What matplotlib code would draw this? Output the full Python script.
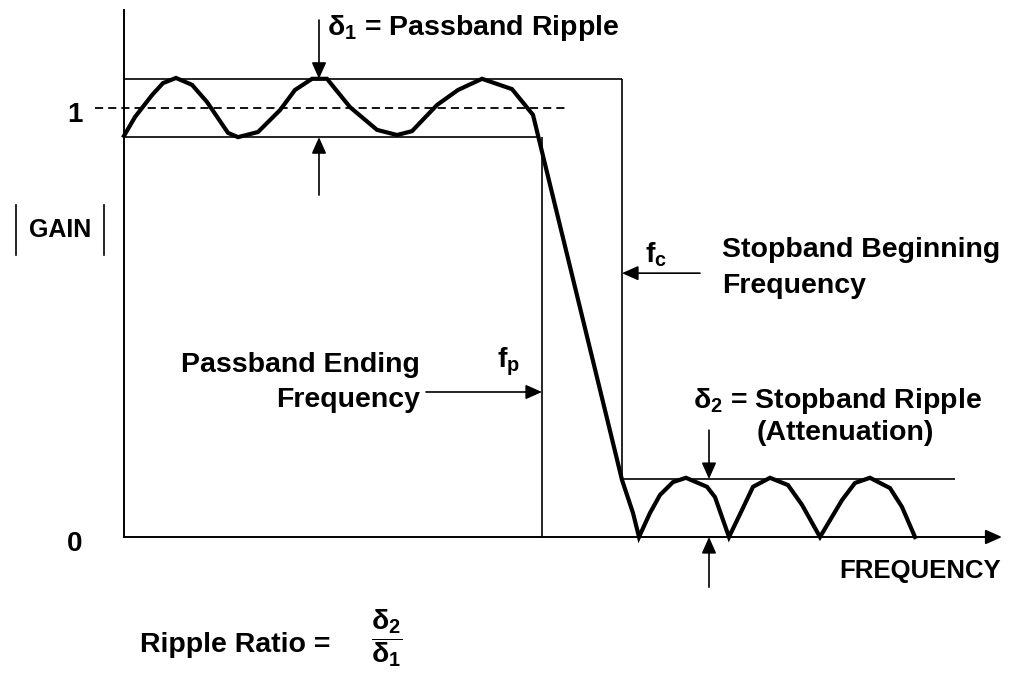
import matplotlib
matplotlib.use("Agg")
import matplotlib.pyplot as plt
import numpy as np

plt.rcParams['font.family'] = ['Liberation Sans', 'DejaVu Sans']
plt.rcParams['font.weight'] = 'bold'
plt.rcParams['mathtext.fontset'] = 'custom'
plt.rcParams['mathtext.rm'] = 'Liberation Sans:bold'
plt.rcParams['mathtext.it'] = 'Liberation Sans:bold'
plt.rcParams['mathtext.bf'] = 'Liberation Sans:bold'
plt.rcParams['mathtext.sf'] = 'Liberation Sans:bold'

# Filter magnitude response (gain 1 = nominal passband)
freq = [0.00, 0.11, 0.28, 0.39, 0.52, 0.68, 0.83, 1.04, 1.14, 1.34, 1.56, 1.71,
        1.88, 2.03, 2.26, 2.53, 2.73, 2.88, 3.13, 3.34, 3.58, 3.88, 4.09,
        4.98, 5.09, 5.15, 5.26, 5.36, 5.49, 5.62, 5.83, 5.91, 6.05, 6.18,
        6.29, 6.46, 6.64, 6.78, 6.96, 7.18, 7.31, 7.46, 7.66, 7.78, 7.91]
gain = [0.935, 0.979, 1.030, 1.058, 1.070, 1.054, 1.014, 0.942, 0.932, 0.944, 0.995, 1.042,
        1.068, 1.068, 1.002, 0.949, 0.937, 0.946, 1.007, 1.042, 1.068, 1.044, 0.984,
        0.133, 0.056, 0.000, 0.056, 0.098, 0.128, 0.138, 0.117, 0.093, 0.000, 0.063,
        0.117, 0.138, 0.121, 0.075, 0.000, 0.086, 0.126, 0.138, 0.114, 0.070, 0.000]

pass_upper = 1.068
pass_lower = 0.932
stop_level = 0.135
f_pass = 4.18
f_stop = 4.98
ytick_values = [1, 0]
ytick_labels = ['1', '0']

fig = plt.figure(figsize=(10.13, 6.73), dpi=100)
ax = fig.add_axes([0, 0, 1, 1])
ax.set_xlim(-1.24, 8.89)
ax.set_ylim(-0.317, 1.2517)
ax.axis('off')

thin = dict(color='black', lw=1.2, solid_capstyle='butt')
arrow = dict(arrowstyle='-|>,head_length=0.45,head_width=0.2', color='black',
             lw=1.2, mutation_scale=22, shrinkA=0, shrinkB=0)

# axes
ax.plot([0, 0], [0, 1.228], color='black', lw=1.4)
ax.annotate('', xy=(8.78, 0), xytext=(0, 0), arrowprops=dict(arrow, lw=1.4))

# tolerance box lines
ax.plot([0, f_stop], [pass_upper, pass_upper], **thin)
ax.plot([0, 4.16], [pass_lower, pass_lower], **thin)
ax.plot([f_stop, f_stop], [pass_upper, stop_level], **thin)
ax.plot([f_pass, f_pass], [pass_lower, 0], **thin)
ax.plot([f_stop, 8.31], [stop_level, stop_level], **thin)
ax.plot([-0.29, 4.41], [1, 1], color='black', lw=1.3, linestyle=(0, (4.5, 2.8)))

# response curve
ax.plot(freq, gain, color='black', lw=3.0, solid_joinstyle='miter')

# y tick labels
for v, lab in zip(ytick_values, ytick_labels):
    ax.text(-0.49, v - 0.032, lab, fontsize=20, ha='center', va='baseline')

# |GAIN| label
ax.text(-0.64, 0.699, 'GAIN', fontsize=18, ha='center', va='baseline')
ax.plot([-1.08, -1.08], [0.657, 0.774], color='black', lw=1.2)
ax.plot([-0.20, -0.20], [0.657, 0.774], color='black', lw=1.2)

# passband ripple
ax.annotate('', xy=(1.95, pass_upper), xytext=(1.95, 1.205), arrowprops=arrow)
ax.annotate('', xy=(1.95, pass_lower), xytext=(1.95, 0.797), arrowprops=arrow)
ax.text(2.03, 1.170, r'$\delta_1$ = Passband Ripple', fontsize=20.5, va='baseline')

# passband edge
ax.annotate('', xy=(f_pass, 0.338), xytext=(3.02, 0.338), arrowprops=arrow)
ax.text(2.96, 0.385, 'Passband Ending', fontsize=20.5, ha='right', va='baseline')
ax.text(2.96, 0.303, 'Frequency', fontsize=20.5, ha='right', va='baseline')
ax.text(3.73, 0.396, r'f$_p$', fontsize=20.5, va='baseline')

# stopband edge
ax.annotate('', xy=(f_stop, 0.615), xytext=(5.76, 0.615), arrowprops=arrow)
ax.text(5.21, 0.641, r'f$_c$', fontsize=20.5, va='baseline')
ax.text(5.98, 0.653, 'Stopband Beginning', fontsize=20.5, va='baseline')
ax.text(5.98, 0.569, 'Frequency', fontsize=20.5, va='baseline')

# stopband ripple
ax.annotate('', xy=(5.85, stop_level), xytext=(5.85, 0.249), arrowprops=arrow)
ax.annotate('', xy=(5.85, 0), xytext=(5.85, -0.117), arrowprops=arrow)
ax.text(5.69, 0.301, r'$\delta_2$ = Stopband Ripple', fontsize=20.5, va='baseline')
ax.text(6.33, 0.226, '(Attenuation)', fontsize=20.5, va='baseline')

ax.text(8.77, -0.096, 'FREQUENCY', fontsize=18.5, ha='right', va='baseline')

# ripple ratio
ax.text(0.16, -0.268, 'Ripple Ratio =', fontsize=20.5, va='baseline')
ax.text(2.63, -0.236, r'$\dfrac{\delta_2}{\delta_1}$', fontsize=20.5, ha='center', va='center')

fig.savefig('out.png', dpi=100)
